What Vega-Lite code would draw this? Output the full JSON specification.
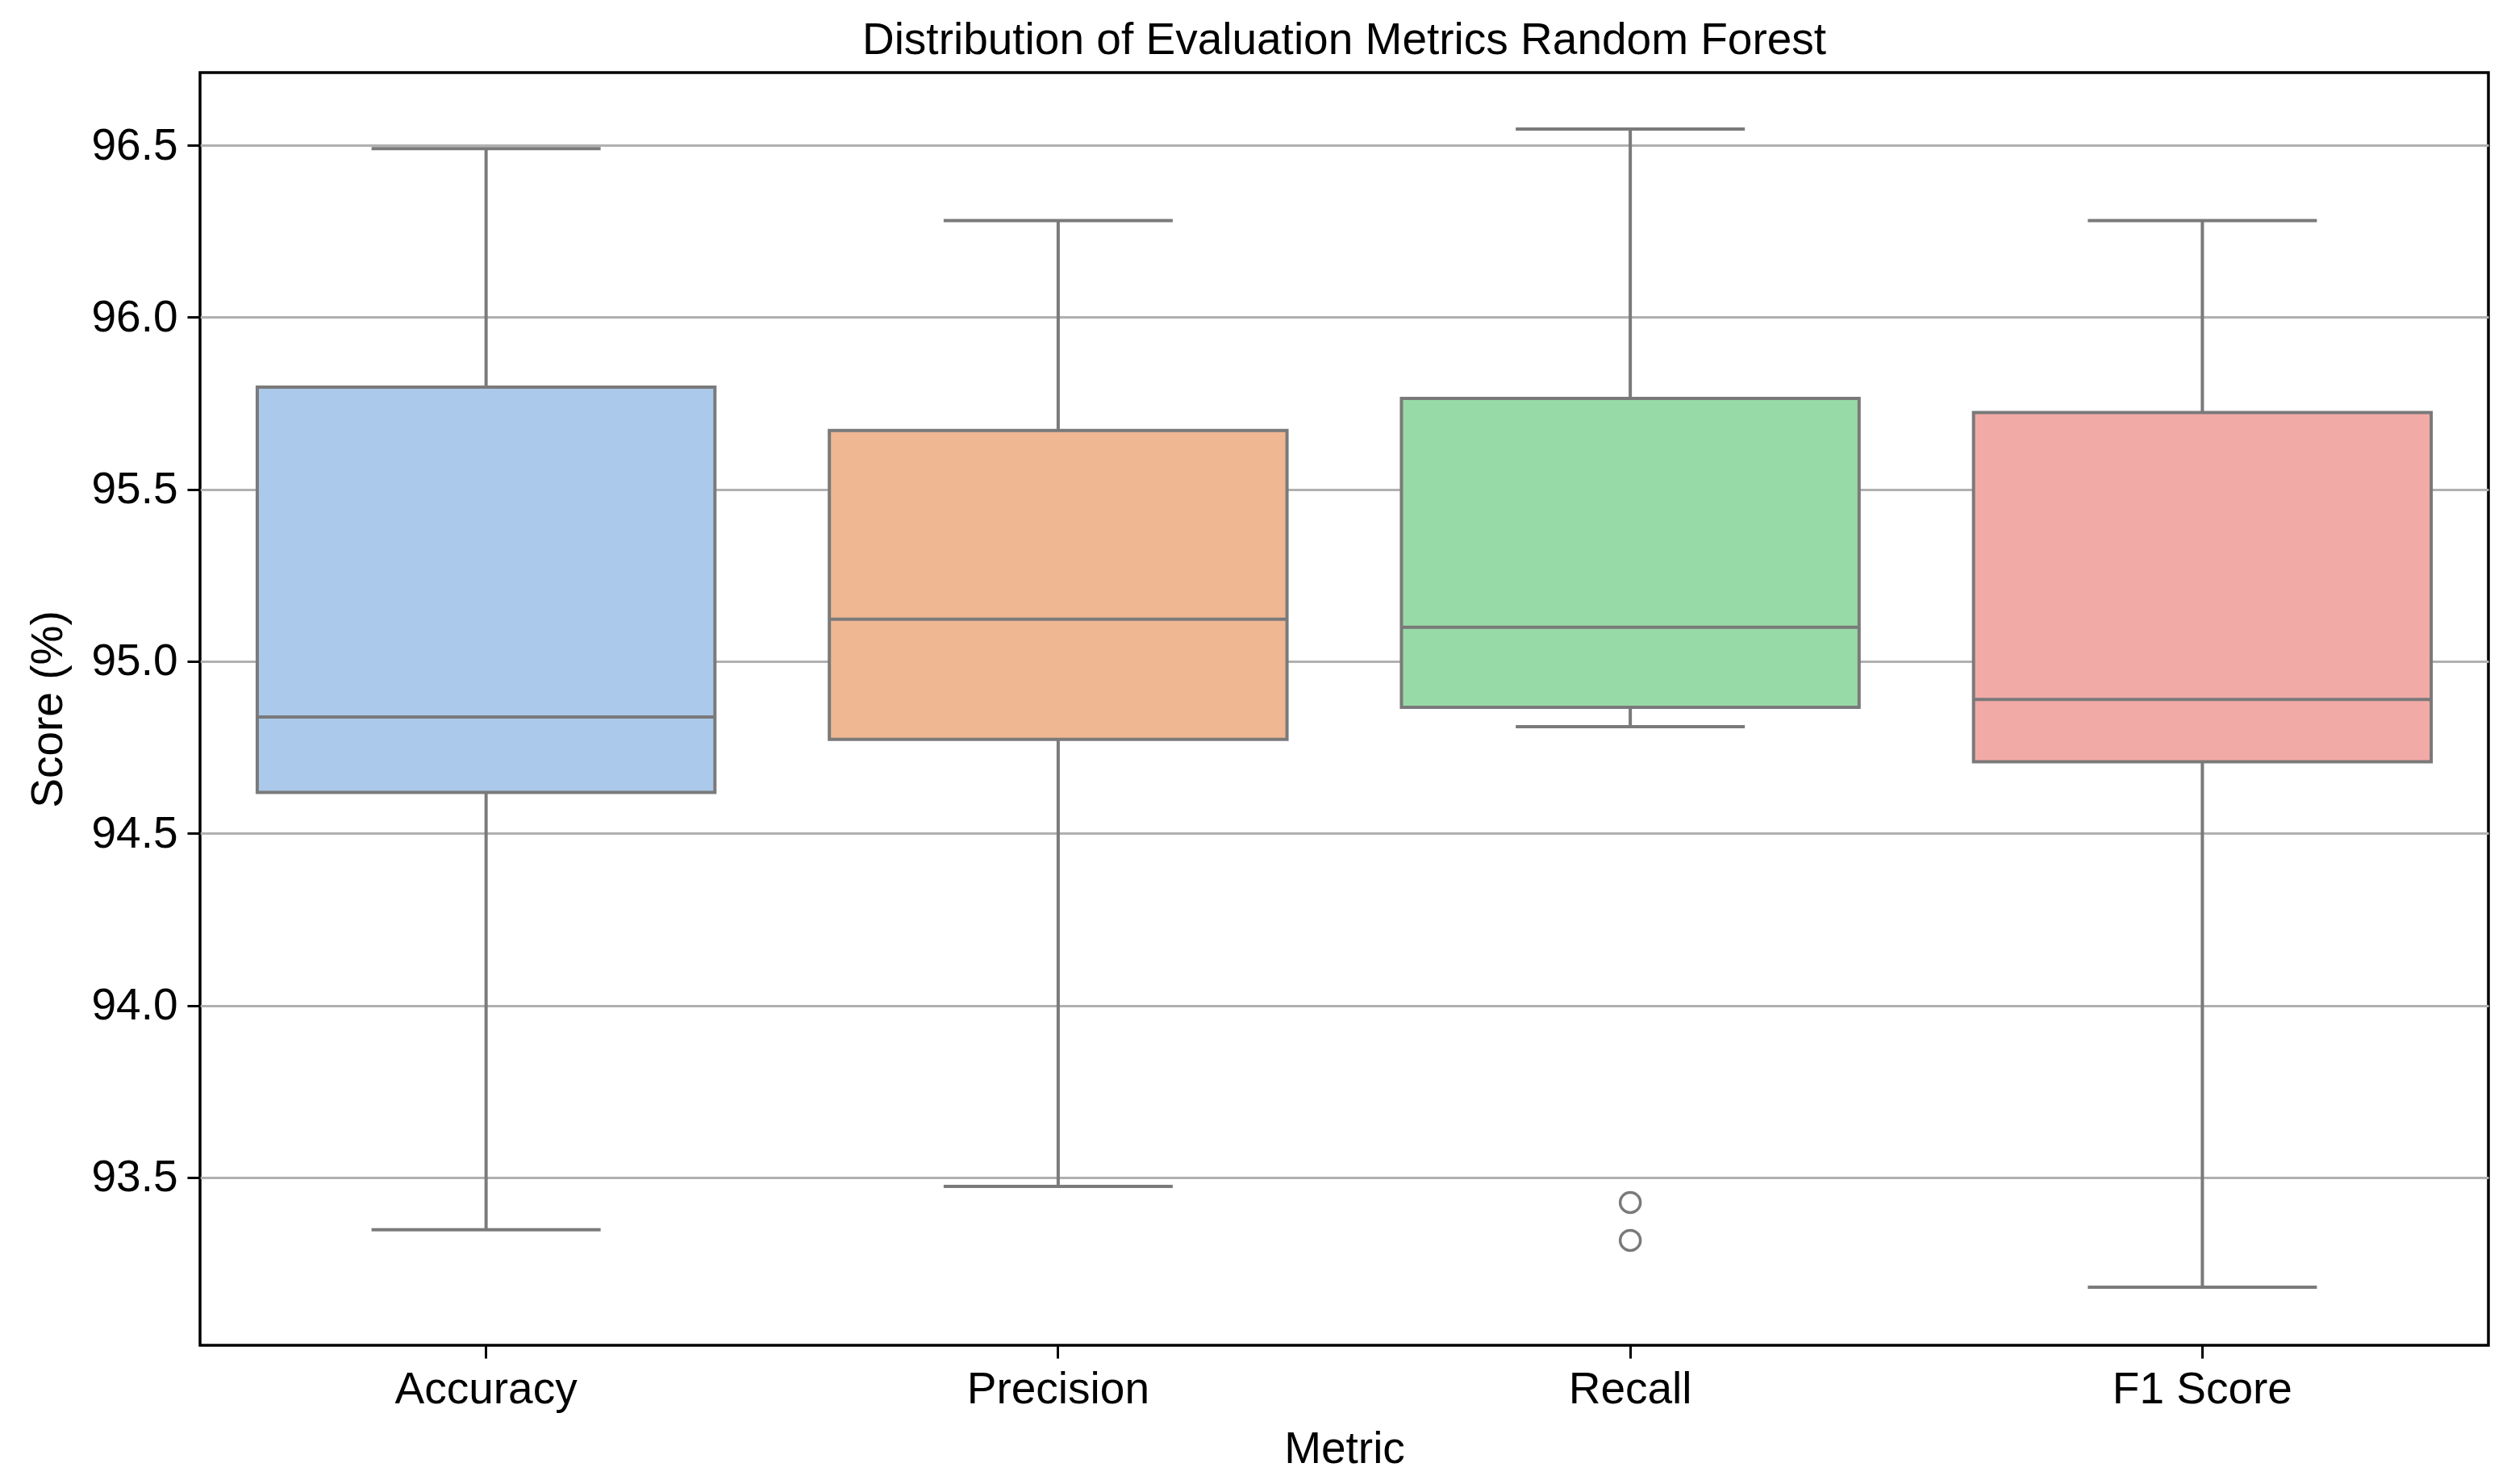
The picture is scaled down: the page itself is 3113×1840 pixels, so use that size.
{
  "$schema": "https://vega.github.io/schema/vega-lite/v6.json",
  "width": 2837,
  "height": 1578,
  "autosize": {"type": "none"},
  "padding": {"left": 248, "top": 90, "right": 28, "bottom": 172},
  "background": "white",
  "title": {
    "text": "Distribution of Evaluation Metrics Random Forest",
    "font": "Liberation Sans",
    "fontSize": 55,
    "fontWeight": "normal",
    "color": "#000000",
    "offset": 11
  },
  "datasets": {
    "stats": [
      {"metric": "Accuracy", "lower": 93.348, "q1": 94.619, "median": 94.838, "q3": 95.797, "upper": 96.49},
      {"metric": "Precision", "lower": 93.474, "q1": 94.773, "median": 95.122, "q3": 95.671, "upper": 96.281},
      {"metric": "Recall", "lower": 94.81, "q1": 94.866, "median": 95.099, "q3": 95.764, "upper": 96.547},
      {"metric": "F1 Score", "lower": 93.181, "q1": 94.708, "median": 94.889, "q3": 95.723, "upper": 96.281}
    ],
    "outliers": [
      {"metric": "Recall", "value": 93.427},
      {"metric": "Recall", "value": 93.317}
    ]
  },
  "encoding": {
    "x": {
      "field": "metric",
      "type": "nominal",
      "sort": ["Accuracy", "Precision", "Recall", "F1 Score"],
      "scale": {"domain": ["Accuracy", "Precision", "Recall", "F1 Score"], "paddingInner": 0, "paddingOuter": 0},
      "axis": {
        "title": "Metric",
        "labelAngle": 0,
        "labelLimit": 0,
        "grid": false,
        "domain": false,
        "ticks": true,
        "tickSize": 16,
        "tickWidth": 3,
        "tickColor": "#000000",
        "labelPadding": 12,
        "titlePadding": 20,
        "labelFont": "Liberation Sans",
        "labelFontSize": 55,
        "labelColor": "#000000",
        "titleFont": "Liberation Sans",
        "titleFontSize": 55,
        "titleFontWeight": "normal",
        "titleColor": "#000000"
      }
    }
  },
  "layer": [
    {
      "data": {"name": "stats"},
      "mark": {"type": "rule", "color": "#7a7a7a", "strokeWidth": 4},
      "encoding": {
        "y": {
          "field": "lower",
          "type": "quantitative",
          "scale": {"domain": [93.012, 96.711], "nice": false, "zero": false},
          "axis": {
            "title": "Score (%)",
            "values": [93.5, 94.0, 94.5, 95.0, 95.5, 96.0, 96.5],
            "format": ".1f",
            "grid": true,
            "gridColor": "#b0b0b0",
            "gridWidth": 3,
            "domain": false,
            "tickSize": 16,
            "tickWidth": 3,
            "tickColor": "#000000",
            "labelPadding": 12,
            "titlePadding": 24,
            "labelFont": "Liberation Sans",
            "labelFontSize": 55,
            "labelColor": "#000000",
            "titleFont": "Liberation Sans",
            "titleFontSize": 55,
            "titleFontWeight": "normal",
            "titleColor": "#000000"
          }
        },
        "y2": {"field": "upper"}
      }
    },
    {
      "data": {"name": "stats"},
      "mark": {"type": "bar", "width": {"band": 0.8}, "stroke": "#7a7a7a", "strokeWidth": 4},
      "encoding": {
        "y": {"field": "q1", "type": "quantitative"},
        "y2": {"field": "q3"},
        "color": {
          "field": "metric",
          "type": "nominal",
          "scale": {"domain": ["Accuracy", "Precision", "Recall", "F1 Score"], "range": ["#abc9ea", "#efb792", "#98daa7", "#f2aaa7"]},
          "legend": null
        }
      }
    },
    {
      "data": {"name": "stats"},
      "mark": {"type": "tick", "color": "#7a7a7a", "size": 567, "thickness": 4, "opacity": 1},
      "encoding": {"y": {"field": "median", "type": "quantitative"}}
    },
    {
      "data": {"name": "stats"},
      "mark": {"type": "tick", "color": "#7a7a7a", "size": 284, "thickness": 4, "opacity": 1},
      "encoding": {"y": {"field": "lower", "type": "quantitative"}}
    },
    {
      "data": {"name": "stats"},
      "mark": {"type": "tick", "color": "#7a7a7a", "size": 284, "thickness": 4, "opacity": 1},
      "encoding": {"y": {"field": "upper", "type": "quantitative"}}
    },
    {
      "data": {"name": "outliers"},
      "mark": {"type": "point", "shape": "circle", "filled": false, "stroke": "#7a7a7a", "strokeWidth": 3.5, "size": 625, "opacity": 1},
      "encoding": {"y": {"field": "value", "type": "quantitative"}}
    }
  ],
  "config": {
    "view": {"stroke": "#000000", "strokeWidth": 3.5},
    "axis": {"labelFont": "Liberation Sans", "titleFont": "Liberation Sans"}
  }
}
